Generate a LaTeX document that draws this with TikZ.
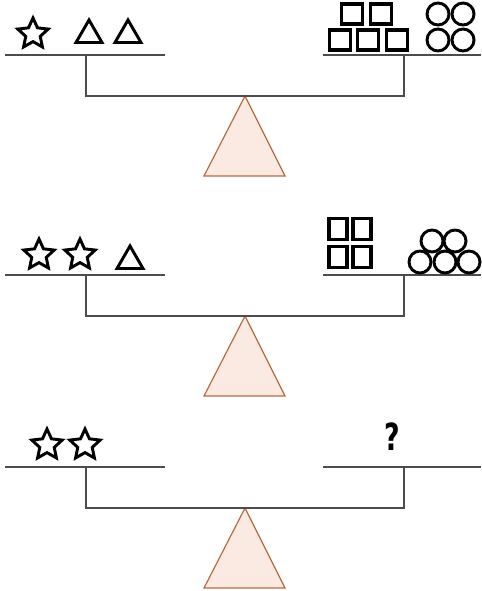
\documentclass[tikz,border=0pt]{standalone}
\usepackage{fontspec}
\setsansfont{DejaVu Sans}
\usepackage{tikz}
\usetikzlibrary{shapes.geometric}

\begin{document}
\begin{tikzpicture}[
  x=0.75pt, y=-0.75pt,
  bar/.style={line width=1.3pt, black!70},
  fulcrum/.style={draw=fulcrumline, fill=fulcrumfill, line width=0.9pt},
  starw/.style={star, star points=5, star point ratio=2.1, draw, line width=2.2pt, minimum size=32*0.75pt, inner sep=0pt},
  triw/.style={regular polygon, regular polygon sides=3, draw, line width=2.2pt, minimum size=30*0.75pt, inner sep=0pt},
  sqw/.style={rectangle, draw, line width=2.4pt, minimum width=21*0.75pt, minimum height=20*0.75pt, inner sep=0pt},
  circw/.style={circle, draw, line width=2.2pt, minimum size=22*0.75pt, inner sep=0pt},
  qmark/.style={font=\sffamily\bfseries\fontsize{28}{32}\selectfont, inner sep=0pt},
]
\definecolor{fulcrumline}{HTML}{B96B40}
\definecolor{fulcrumfill}{HTML}{FAEAE2}
\useasboundingbox (0,0) rectangle (481,591);

% the three balances
\foreach \dy/\n in {0/a,220/b,412/c}{
  \coordinate (lpanL\n) at (5,55+\dy);
  \coordinate (lpanR\n) at (165,55+\dy);
  \coordinate (rpanL\n) at (323,55+\dy);
  \coordinate (rpanR\n) at (481,55+\dy);
  \coordinate (lhang\n) at (86,55+\dy);
  \coordinate (rhang\n) at (404,55+\dy);
  \coordinate (apex\n) at (245,96+\dy);
  \draw[fulcrum] (apex\n) -- (204,176+\dy) -- (285,176+\dy) -- cycle;
  \draw[bar] (lpanL\n) -- (lpanR\n);
  \draw[bar] (rpanL\n) -- (rpanR\n);
  \draw[bar] (lhang\n) |- (apex\n) -| (rhang\n);
}

% balance a
\node[starw] (sa1) at (33,34) {};
\node[triw] (ta1) at (89,35) {};
\node[triw] (ta2) at (128,35) {};
\node[sqw] (qa1) at (352,14) {};
\node[sqw] (qa2) at (381,14) {};
\node[sqw] (qa3) at (340,40) {};
\node[sqw] (qa4) at (368,40) {};
\node[sqw] (qa5) at (397,40) {};
\node[circw] (ca1) at (438,14) {};
\node[circw] (ca2) at (463,14) {};
\node[circw] (ca3) at (438,40) {};
\node[circw] (ca4) at (463,40) {};

% balance b
\node[starw] (sb1) at (39,255) {};
\node[starw] (sb2) at (80,255) {};
\node[triw] (tb1) at (130,261) {};
\node[sqw, minimum width=18*0.75pt, minimum height=21*0.75pt] (qb1) at (338,229) {};
\node[sqw, minimum width=18*0.75pt, minimum height=21*0.75pt] (qb2) at (362,229) {};
\node[sqw, minimum width=18*0.75pt, minimum height=21*0.75pt] (qb3) at (338,257) {};
\node[sqw, minimum width=18*0.75pt, minimum height=21*0.75pt] (qb4) at (362,257) {};
\node[circw] (cb1) at (432,241) {};
\node[circw] (cb2) at (455,241) {};
\node[circw] (cb3) at (420,262) {};
\node[circw] (cb4) at (445,262) {};
\node[circw] (cb5) at (469,262) {};

% balance c
\node[starw] (sc1) at (47,445) {};
\node[starw] (sc2) at (85,445) {};
\node[qmark] (ask) at (392.5,437) {\scalebox{0.72}[1]{?}};
\end{tikzpicture}
\end{document}
